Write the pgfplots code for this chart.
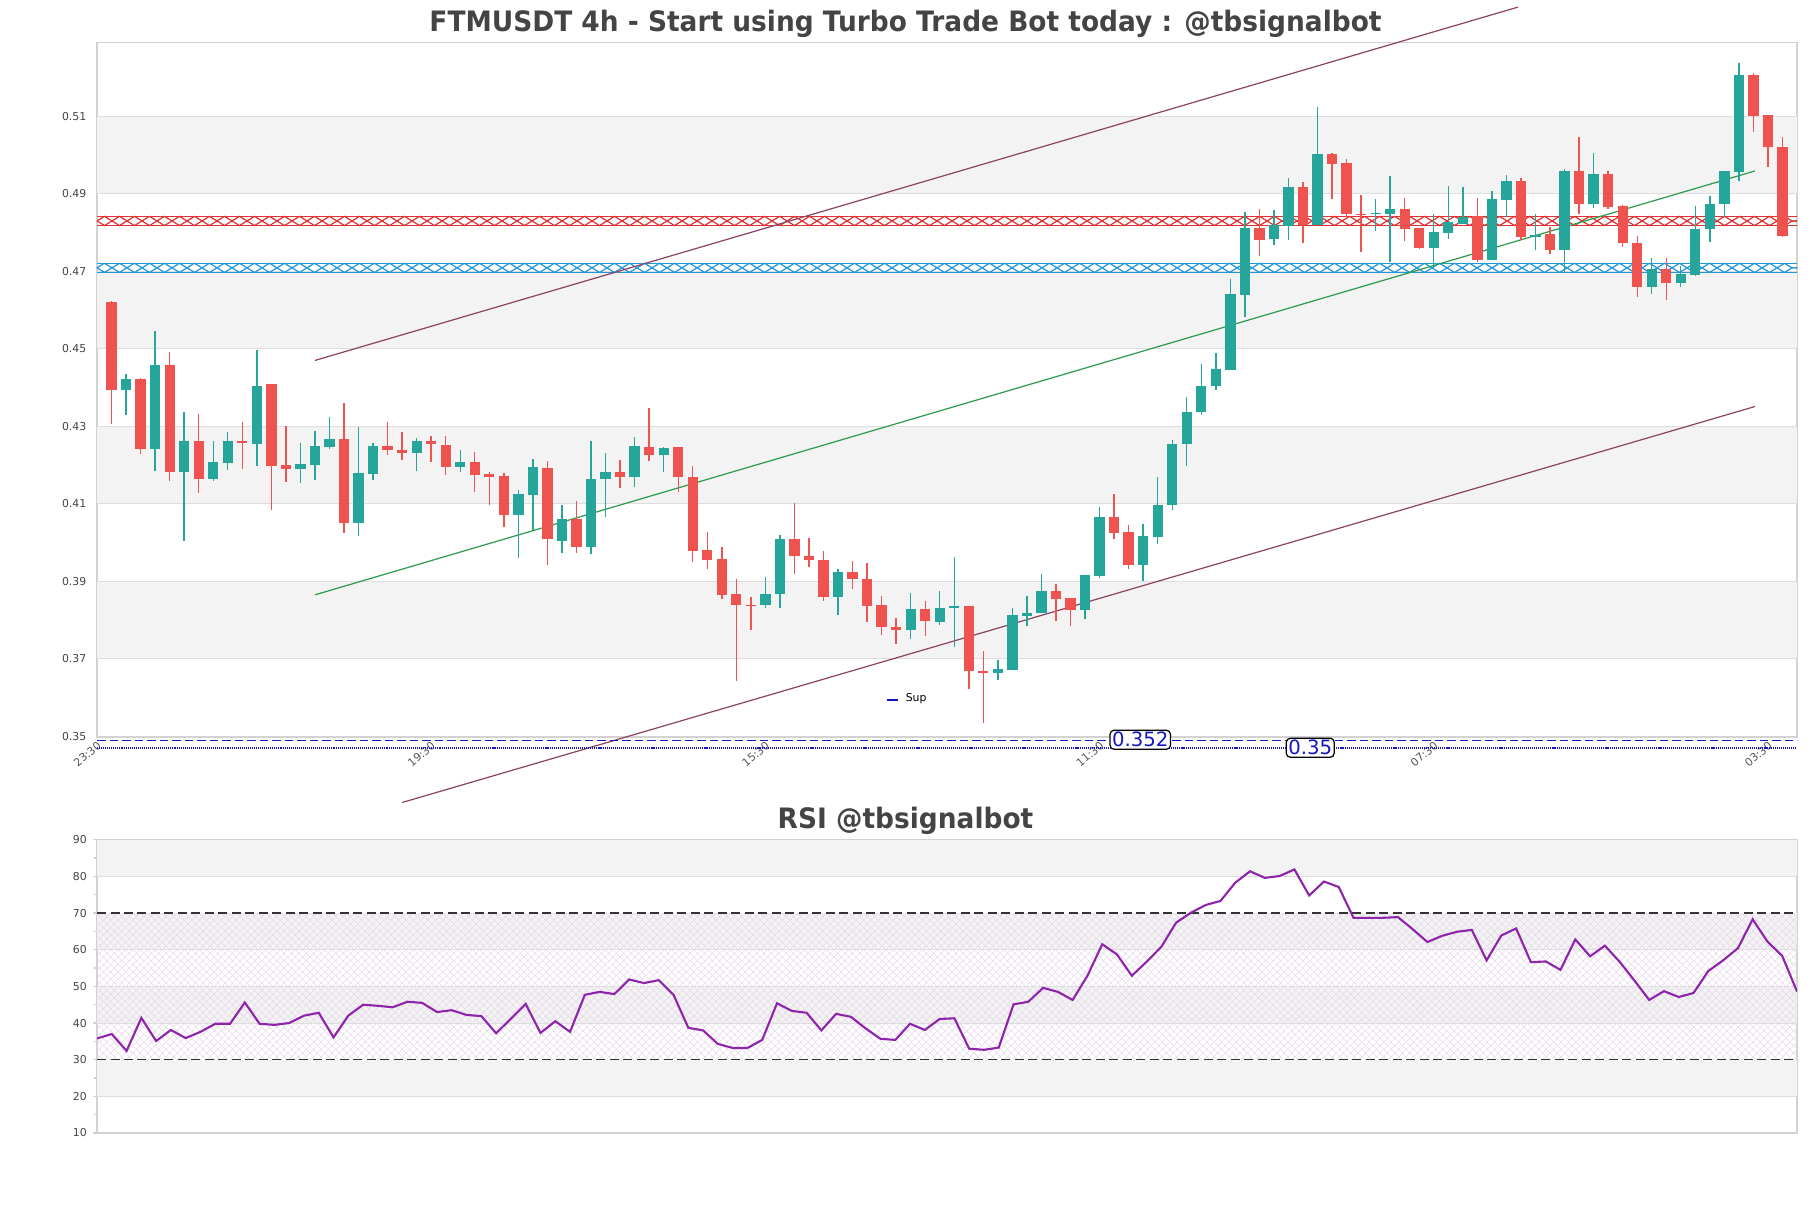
\documentclass[border=0pt]{standalone}
\usepackage{fontspec}
\setmainfont{DejaVu Sans}
\newfontfamily\titlefont[FakeStretch=0.94]{DejaVu Sans}
\usepackage{pgfplots}
\usepackage{pgfplotstable}
\pgfplotsset{compat=1.18}
\usetikzlibrary{patterns,decorations.pathmorphing}

\definecolor{cup}{HTML}{26A69A}
\definecolor{cdn}{HTML}{EF5350}
\definecolor{band}{HTML}{F3F3F3}
\definecolor{gridc}{HTML}{DEDEDE}
\definecolor{spine}{HTML}{D2D2D2}
\definecolor{chan}{HTML}{8E4466}
\definecolor{midl}{HTML}{2E9B4E}
\definecolor{resred}{HTML}{DD3333}
\definecolor{supblue}{HTML}{2196D9}
\definecolor{lvl}{HTML}{1515C8}
\definecolor{rsic}{HTML}{8E24AA}
\definecolor{hatchc}{HTML}{E6D8EA}
\definecolor{txt}{HTML}{444444}
\definecolor{ticktxt}{HTML}{555555}

\pgfdeclarepatternformonly{rsix}{\pgfpoint{-0.1pt}{-0.1pt}}{\pgfpoint{2.2pt}{2.2pt}}{\pgfpoint{2.1pt}{2.1pt}}{%
  \pgfsetlinewidth{0.15pt}%
  \pgfpathmoveto{\pgfpointorigin}\pgfpathlineto{\pgfpoint{2.1pt}{2.1pt}}%
  \pgfpathmoveto{\pgfpoint{0pt}{2.1pt}}\pgfpathlineto{\pgfpoint{2.1pt}{0pt}}%
  \pgfusepath{stroke}}

% green candles: index open high low close
\pgfplotstableread{
x o h l c
1 .4393 .4435 .4328 .4423
3 .4241 .4547 .4184 .4457
5 .4182 .4336 .4004 .4261
7 .4164 .4261 .4159 .4207
8 .4205 .4284 .4187 .4261
10 .4254 .4496 .4197 .4405
13 .4190 .4258 .4153 .4202
14 .4200 .4289 .4161 .4248
15 .4246 .4325 .4241 .4266
17 .4050 .4298 .4017 .4179
18 .4177 .4258 .4161 .4248
21 .4231 .4271 .4184 .4261
24 .4195 .4240 .4182 .4207
28 .4071 .4135 .3960 .4125
29 .4122 .4215 .4032 .4195
31 .4005 .4097 .3974 .4060
33 .3989 .4263 .3971 .4165
34 .4163 .4231 .4066 .4183
36 .4168 .4272 .4143 .4249
38 .4227 .4246 .4181 .4244
45 .3839 .3912 .3831 .3866
46 .3866 .4019 .3831 .4009
50 .3859 .3932 .3813 .3923
55 .3773 .3869 .3751 .3828
57 .3795 .3874 .3788 .3830
58 .3830 .3962 .3731 .3835
61 .3664 .3698 .3645 .3673
62 .3671 .3830 .3671 .3812
63 .3810 .3861 .3784 .3817
64 .3817 .3920 .3817 .3874
67 .3825 .3915 .3802 .3915
68 .3913 .4091 .3908 .4067
71 .3941 .4049 .3900 .4016
72 .4013 .4170 .3995 .4098
73 .4098 .4265 .4085 .4255
74 .4255 .4375 .4198 .4336
75 .4336 .4460 .4330 .4405
76 .4404 .4488 .4393 .4447
77 .4445 .4679 .4445 .4641
78 .4639 .4853 .4583 .4811
80 .4784 .4858 .4768 .4819
81 .4817 .4941 .4781 .4917
83 .4820 .5124 .4820 .5003
87 .4848 .4886 .4804 .4850
88 .4848 .4946 .4723 .4860
91 .4760 .4847 .4706 .4801
92 .4799 .4920 .4784 .4827
93 .4822 .4917 .4822 .4840
95 .4728 .4907 .4728 .4886
96 .4884 .4948 .4841 .4933
98 .4789 .4847 .4755 .4794
100 .4755 .4965 .4696 .4959
102 .4874 .5005 .4864 .4951
106 .4660 .4734 .4641 .4707
108 .4670 .4713 .4660 .4692
109 .4690 .4868 .4688 .4810
110 .4809 .4894 .4776 .4875
111 .4873 .4959 .4841 .4959
112 .4957 .5237 .4934 .5207
}\upTab

% red candles
\pgfplotstableread{
x o h l c
0 .4622 .4624 .4305 .4393
2 .4423 .4425 .4229 .4241
4 .4457 .4493 .4159 .4182
6 .4261 .4333 .4128 .4164
9 .4261 .4310 .4190 .4257
11 .4408 .4408 .4084 .4197
12 .4199 .4302 .4156 .4190
16 .4266 .4359 .4024 .4050
19 .4248 .4310 .4226 .4239
20 .4240 .4284 .4213 .4231
22 .4261 .4274 .4208 .4254
23 .4253 .4274 .4174 .4195
25 .4207 .4233 .4130 .4174
26 .4177 .4182 .4097 .4169
27 .4171 .4179 .4040 .4071
30 .4193 .4211 .3941 .4010
32 .4060 .4108 .3974 .3989
35 .4183 .4213 .4140 .4168
37 .4246 .4346 .4211 .4227
39 .4246 .4246 .4130 .4168
40 .4170 .4198 .3951 .3979
41 .3981 .4027 .3931 .3956
42 .3958 .3989 .3854 .3864
43 .3868 .3906 .3642 .3839
44 .3840 .3859 .3775 .3836
47 .4009 .4101 .3920 .3964
48 .3966 .4012 .3938 .3954
49 .3955 .3978 .3849 .3859
51 .3923 .3953 .3880 .3905
52 .3907 .3948 .3795 .3836
53 .3838 .3861 .3762 .3783
54 .3783 .3806 .3739 .3775
56 .3828 .3849 .3760 .3798
59 .3835 .3835 .3622 .3668
60 .3668 .3719 .3534 .3664
65 .3874 .3892 .3797 .3853
66 .3856 .3858 .3784 .3825
69 .4067 .4124 .4008 .4024
70 .4026 .4044 .3931 .3941
79 .4811 .4862 .4740 .4781
82 .4917 .4930 .4773 .4820
84 .5003 .5005 .4887 .4978
85 .4979 .4990 .4840 .4848
86 .4849 .4897 .4750 .4846
89 .4860 .4889 .4778 .4810
90 .4811 .4811 .4758 .4760
94 .4842 .4889 .4723 .4728
97 .4933 .4941 .4781 .4789
99 .4797 .4815 .4745 .4755
101 .4959 .5047 .4848 .4874
103 .4951 .4959 .4861 .4866
104 .4868 .4871 .4763 .4773
105 .4774 .4791 .4634 .4660
107 .4707 .4735 .4627 .4670
113 .5207 .5211 .5060 .5102
114 .5103 .5103 .4970 .5022
115 .5021 .5046 .4789 .4791
}\dnTab

\pgfplotstableread{
k rsi
0 35.8
1 37.0
2 32.4
3 41.4
4 35.1
5 38.1
6 35.9
7 37.6
8 39.8
9 39.8
10 45.6
11 39.8
12 39.5
13 40.0
14 42.0
15 42.8
16 36.1
17 42.0
18 45.0
19 44.7
20 44.3
21 45.8
22 45.5
23 43.0
24 43.5
25 42.2
26 41.9
27 37.2
28 41.2
29 45.2
30 37.3
31 40.5
32 37.6
33 47.7
34 48.5
35 47.9
36 51.9
37 50.9
38 51.7
39 47.7
40 38.7
41 38.0
42 34.3
43 33.2
44 33.2
45 35.4
46 45.4
47 43.3
48 42.8
49 38.0
50 42.5
51 41.7
52 38.5
53 35.7
54 35.4
55 39.8
56 38.1
57 41.1
58 41.3
59 33.0
60 32.7
61 33.3
62 45.1
63 45.8
64 49.6
65 48.5
66 46.3
67 52.9
68 61.5
69 58.7
70 52.9
71 56.7
72 60.8
73 67.4
74 70.1
75 72.2
76 73.3
77 78.3
78 81.4
79 79.6
80 80.1
81 81.9
82 74.8
83 78.6
84 77.1
85 68.7
86 68.7
87 68.7
88 68.9
89 65.6
90 62.1
91 63.8
92 64.9
93 65.4
94 57.1
95 63.9
96 65.8
97 56.6
98 56.8
99 54.5
100 62.8
101 58.2
102 61.1
103 56.7
104 51.6
105 46.3
106 48.7
107 47.1
108 48.2
109 54.2
110 57.1
111 60.4
112 68.3
113 62.2
114 58.3
115 48.6
}\rsiTab

\pgfplotsset{
  tinytick/.style={font=\fontsize{3.1}{3.6}\selectfont\color{ticktxt}},
  band/.style={fill=band, draw=none, forget plot},
  gl/.style={gridc, line width=0.3pt, forget plot},
  stick/.style 2 args={draw=none, mark=none, forget plot,
    error bars/.cd, y dir=plus, y explicit, error mark=none,
    error bar style={draw=#1, line width=#2}},
}

\begin{document}
\begin{tikzpicture}
\path[use as bounding box] (0,0) rectangle (18.11cm,-12.08cm);

\node[anchor=base, text=txt, font=\titlefont\bfseries\fontsize{8}{9}\selectfont] at (9.055cm,-0.31cm)
  {FTMUSDT 4h - Start using Turbo Trade Bot today : @tbsignalbot};
\node[anchor=base, text=txt, font=\titlefont\bfseries\fontsize{8}{9}\selectfont] at (9.055cm,-8.28cm)
  {RSI @tbsignalbot};

\begin{axis}[
  at={(0.97cm,-0.427cm)}, anchor=north west,
  scale only axis, width=17cm, height=6.943cm,
  xmin=-1, xmax=116, ymin=0.3498, ymax=0.529,
  clip=false,
  axis line style={spine, line width=0.4pt},
  major tick length=0pt,
  xtick={-1,22,45,68,91,114},
  xticklabels={23:30,19:30,15:30,11:30,07:30,03:30},
  x tick label style={tinytick, rotate=40, anchor=north east, inner sep=0.6pt},
  ytick={0.35,0.37,0.39,0.41,0.43,0.45,0.47,0.49,0.51},
  y tick label style={tinytick, color=txt, inner sep=0pt, xshift=-0.1cm},
  yticklabel style={/pgf/number format/.cd, fixed, fixed zerofill, precision=2, assume math mode=true},
  legend style={at={(0.4635,0.053)}, anchor=west, draw=none, fill=none,
    font=\fontsize{3.1}{3.6}\selectfont, inner sep=0pt},
  legend image code/.code={\draw[#1] (0cm,0cm) -- (0.11cm,0cm);},
]
% background bands
\addplot[band] coordinates {(-1,0.49) (116,0.49) (116,0.51) (-1,0.51)} -- cycle;
\addplot[band] coordinates {(-1,0.45) (116,0.45) (116,0.47) (-1,0.47)} -- cycle;
\addplot[band] coordinates {(-1,0.41) (116,0.41) (116,0.43) (-1,0.43)} -- cycle;
\addplot[band] coordinates {(-1,0.37) (116,0.37) (116,0.39) (-1,0.39)} -- cycle;
% grid
\addplot[gl] coordinates {(-1,0.37) (116,0.37)};
\addplot[gl] coordinates {(-1,0.39) (116,0.39)};
\addplot[gl] coordinates {(-1,0.41) (116,0.41)};
\addplot[gl] coordinates {(-1,0.43) (116,0.43)};
\addplot[gl] coordinates {(-1,0.45) (116,0.45)};
\addplot[gl] coordinates {(-1,0.47) (116,0.47)};
\addplot[gl] coordinates {(-1,0.49) (116,0.49)};
\addplot[gl] coordinates {(-1,0.51) (116,0.51)};

% resistance zone (red) and support zone (blue)
\addplot[resred, line width=0.35pt, forget plot] coordinates {(-1,0.4818) (116,0.4818)};
\addplot[resred, line width=0.35pt, forget plot] coordinates {(-1,0.4842) (116,0.4842)};
\addplot[resred, line width=0.35pt, forget plot, decorate, decoration={zigzag, segment length=0.3cm, amplitude=0.046cm}] coordinates {(-1,0.4830) (116,0.4830)};
\addplot[resred, line width=0.35pt, forget plot, decorate, decoration={zigzag, segment length=0.3cm, amplitude=0.046cm, mirror}] coordinates {(-1,0.4830) (116,0.4830)};
\addplot[supblue, line width=0.35pt, forget plot] coordinates {(-1,0.4697) (116,0.4697)};
\addplot[supblue, line width=0.35pt, forget plot] coordinates {(-1,0.4721) (116,0.4721)};
\addplot[supblue, line width=0.35pt, forget plot, decorate, decoration={zigzag, segment length=0.3cm, amplitude=0.046cm}] coordinates {(-1,0.4709) (116,0.4709)};
\addplot[supblue, line width=0.35pt, forget plot, decorate, decoration={zigzag, segment length=0.3cm, amplitude=0.046cm, mirror}] coordinates {(-1,0.4709) (116,0.4709)};

% channel
\addplot[chan, line width=0.35pt, forget plot] coordinates {(14,0.4470) (96.8,0.5382)};
\addplot[midl, line width=0.35pt, forget plot] coordinates {(14,0.3865) (113.1,0.4959)};
\addplot[chan, line width=0.35pt, forget plot] coordinates {(20,0.3329) (113.1,0.4351)};

% wicks
\addplot[stick={cup}{0.4pt}]
  table[x=x, y=l, y error plus expr=\thisrow{h}-\thisrow{l}] {\upTab};
\addplot[stick={cdn}{0.4pt}]
  table[x=x, y=l, y error plus expr=\thisrow{h}-\thisrow{l}] {\dnTab};
% bodies
\addplot[stick={cup}{1.03mm}]
  table[x=x, y=o, y error plus expr={max(\thisrow{c}-\thisrow{o},0.0003)}] {\upTab};
\addplot[stick={cdn}{1.03mm}]
  table[x=x, y=c, y error plus expr={max(\thisrow{o}-\thisrow{c},0.0003)}] {\dnTab};

% levels below
\addplot[lvl, line width=0.4pt, dash pattern=on 0.085cm off 0.04cm, forget plot] coordinates {(-1,0.34897) (116,0.34897)};
\addplot[lvl, line width=0.6pt, dash pattern=on 0.3pt off 0.28pt, forget plot] coordinates {(-1,0.34703) (116,0.34703)};
\node[draw=black, fill=white, rounded corners=1.2pt, inner sep=0.6pt, line width=0.35pt,
  text=lvl, font=\fontsize{5.6}{6}\selectfont] at (axis cs:70.8,0.3491) {0.352};
\node[draw=black, fill=white, rounded corners=1.2pt, inner sep=0.6pt, line width=0.35pt,
  text=lvl, font=\fontsize{5.6}{6}\selectfont] at (axis cs:82.5,0.34703) {0.35};

\addlegendimage{lvl, line width=0.6pt}
\addlegendentry{Sup}
\end{axis}

\begin{axis}[
  at={(0.97cm,-8.397cm)}, anchor=north west,
  scale only axis, width=17cm, height=2.933cm,
  xmin=0, xmax=115, ymin=10, ymax=90,
  axis line style={spine, line width=0.4pt},
  xtick=\empty,
  ytick={10,20,30,40,50,60,70,80,90},
  minor ytick={15,25,35,45,55,65,75,85},
  ytick pos=left, tick align=outside,
  major tick length=0.045cm, minor tick length=0.03cm,
  every tick/.style={spine, line width=0.4pt},
  y tick label style={tinytick, color=txt, inner sep=0pt, xshift=-0.05cm},
  yticklabel style={/pgf/number format/assume math mode=true},
]
\addplot[band] coordinates {(0,80) (115,80) (115,90) (0,90)} -- cycle;
\addplot[band] coordinates {(0,60) (115,60) (115,70) (0,70)} -- cycle;
\addplot[band] coordinates {(0,40) (115,40) (115,50) (0,50)} -- cycle;
\addplot[band] coordinates {(0,20) (115,20) (115,30) (0,30)} -- cycle;
\addplot[draw=none, pattern=rsix, pattern color=hatchc, forget plot] coordinates {(0,30) (115,30) (115,70) (0,70)} -- cycle;
\addplot[gl] coordinates {(0,20) (115,20)};
\addplot[gl] coordinates {(0,40) (115,40)};
\addplot[gl] coordinates {(0,50) (115,50)};
\addplot[gl] coordinates {(0,60) (115,60)};
\addplot[gl] coordinates {(0,80) (115,80)};
\addplot[black!80, line width=0.4pt, dash pattern=on 0.09cm off 0.045cm, forget plot] coordinates {(0,70) (115,70)};
\addplot[black!80, line width=0.4pt, dash pattern=on 0.09cm off 0.045cm, forget plot] coordinates {(0,30) (115,30)};
\addplot[rsic, line width=0.6pt, forget plot] table[x=k, y=rsi] {\rsiTab};
\end{axis}
\end{tikzpicture}
\end{document}
